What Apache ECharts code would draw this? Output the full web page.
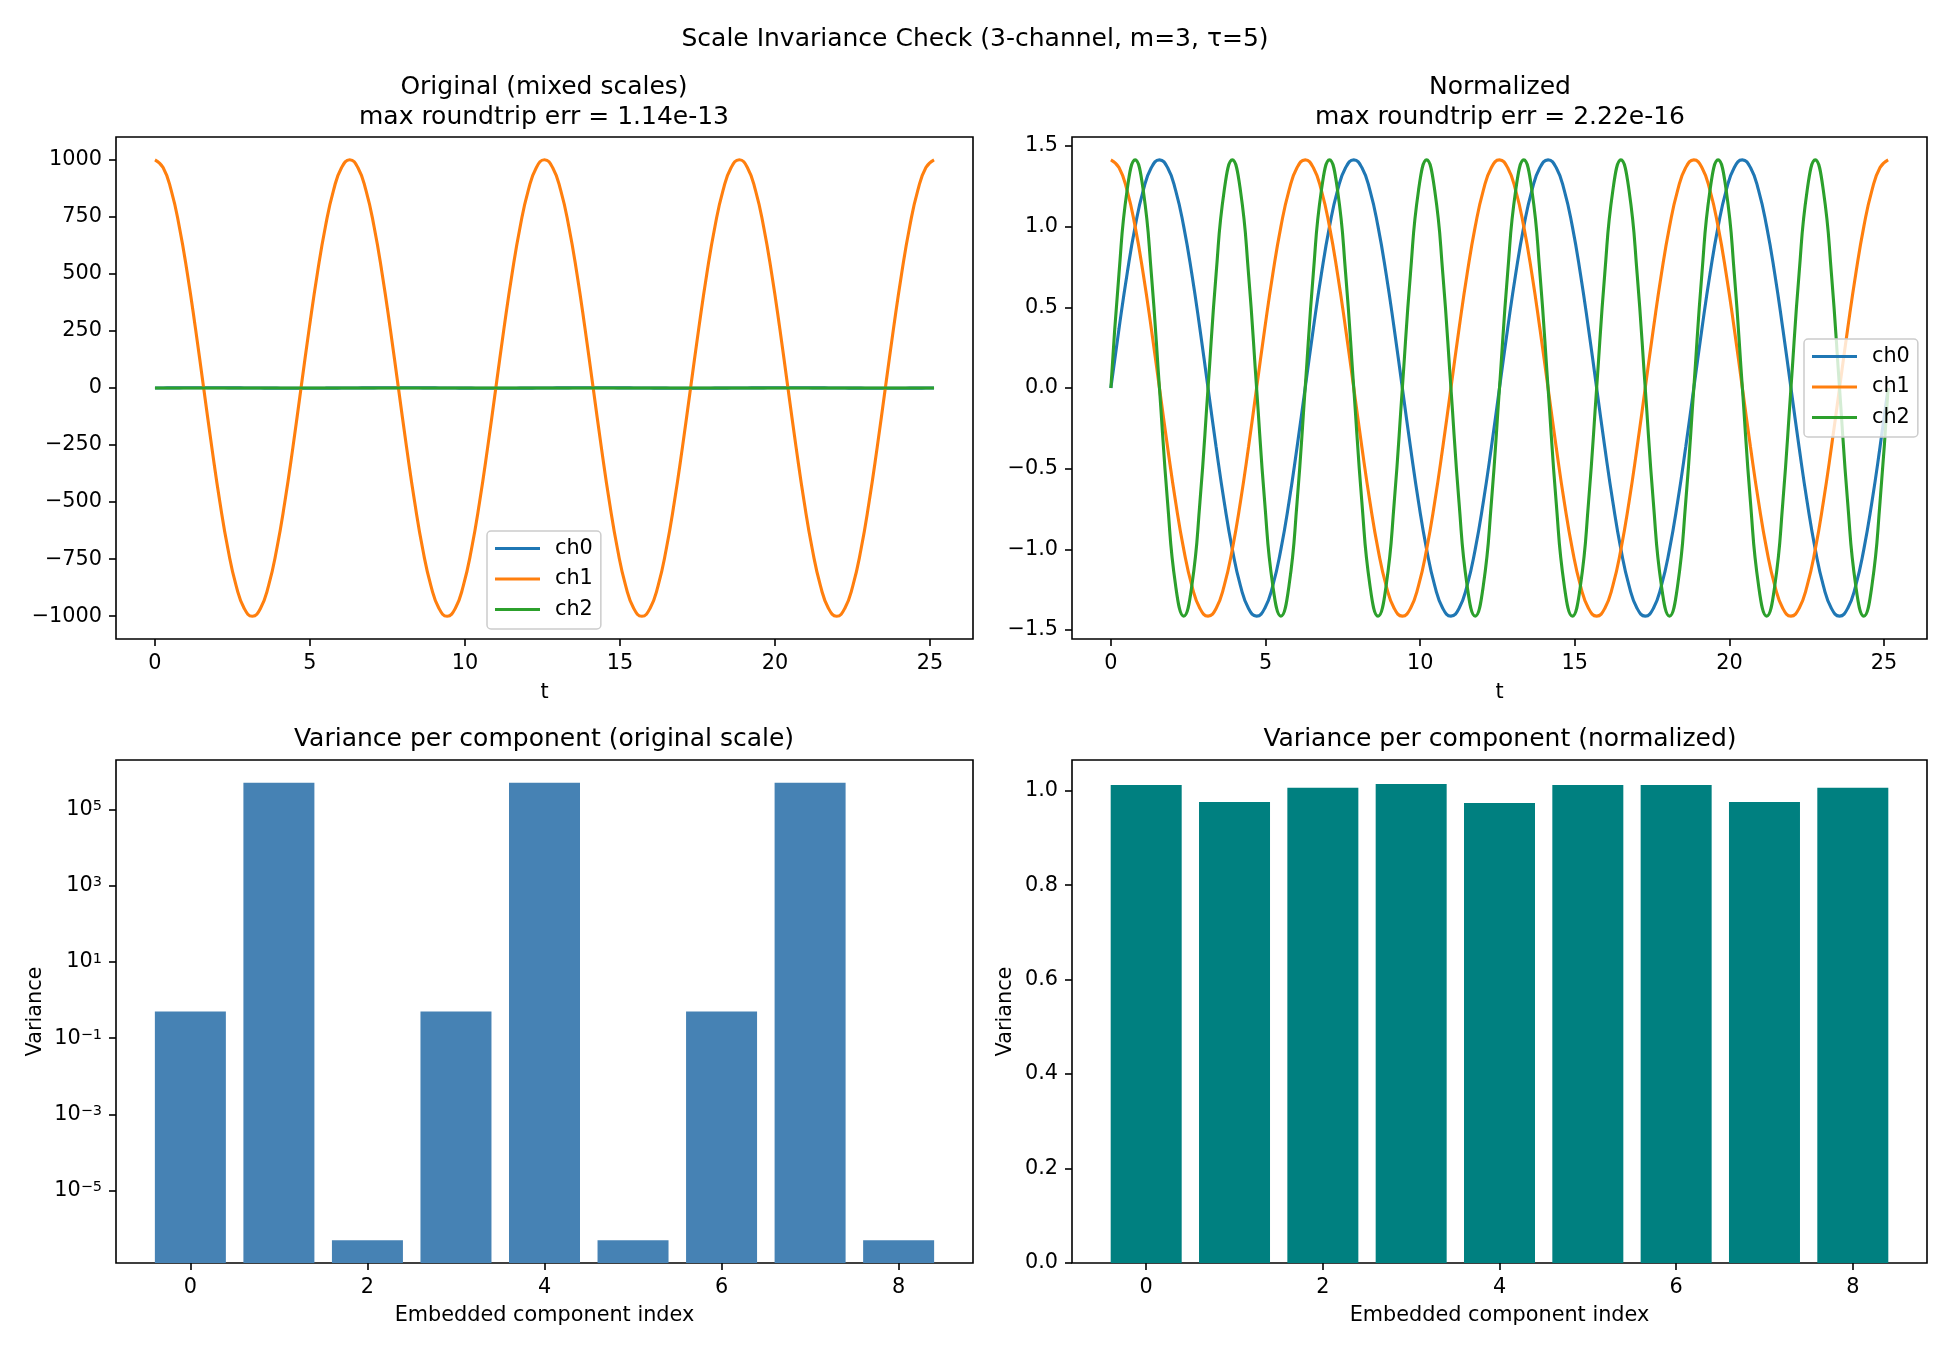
<!DOCTYPE html>
<html>
<head>
<meta charset="utf-8">
<script src="https://cdn.jsdelivr.net/npm/echarts@6/dist/echarts.min.js"></script>
<style>
  html, body { margin: 0; padding: 0; background: #fff; }
  #chart { width: 1950px; height: 1350px; }
</style>
</head>
<body>
<div id="chart"></div>
<script>
// sample times (t), read every ~0.26 along the x axis
const tValues = [0, 0.262, 0.524, 0.785, 1.047, 1.309, 1.571, 1.833, 2.094, 2.356, 2.618, 2.880,
  3.142, 3.403, 3.665, 3.927, 4.189, 4.451, 4.712, 4.974, 5.236, 5.498, 5.760, 6.021,
  6.283, 6.545, 6.807, 7.069, 7.330, 7.592, 7.854, 8.116, 8.378, 8.639, 8.901, 9.163,
  9.425, 9.687, 9.948, 10.210, 10.472, 10.734, 10.996, 11.257, 11.519, 11.781, 12.043, 12.305,
  12.566, 12.828, 13.090, 13.352, 13.614, 13.875, 14.137, 14.399, 14.661, 14.923, 15.184, 15.446,
  15.708, 15.970, 16.232, 16.493, 16.755, 17.017, 17.279, 17.541, 17.802, 18.064, 18.326, 18.588,
  18.850, 19.111, 19.373, 19.635, 19.897, 20.159, 20.420, 20.682, 20.944, 21.206, 21.468, 21.729,
  21.991, 22.253, 22.515, 22.777, 23.038, 23.300, 23.562, 23.824, 24.086, 24.347, 24.609, 24.871,
  25.133]

// original (mixed scales)
const origCh0 = [0, 0.26, 0.5, 0.71, 0.87, 0.97, 1, 0.97, 0.87, 0.71, 0.5, 0.26, 0, -0.26, -0.5, -0.71, -0.87, -0.97, -1, -0.97, -0.87, -0.71, -0.5, -0.26,
  0, 0.26, 0.5, 0.71, 0.87, 0.97, 1, 0.97, 0.87, 0.71, 0.5, 0.26, 0, -0.26, -0.5, -0.71, -0.87, -0.97, -1, -0.97, -0.87, -0.71, -0.5, -0.26,
  0, 0.26, 0.5, 0.71, 0.87, 0.97, 1, 0.97, 0.87, 0.71, 0.5, 0.26, 0, -0.26, -0.5, -0.71, -0.87, -0.97, -1, -0.97, -0.87, -0.71, -0.5, -0.26,
  0, 0.26, 0.5, 0.71, 0.87, 0.97, 1, 0.97, 0.87, 0.71, 0.5, 0.26, 0, -0.26, -0.5, -0.71, -0.87, -0.97, -1, -0.97, -0.87, -0.71, -0.5, -0.26,
  0]
const origCh1 = [1000, 966, 866, 707, 500, 259, 0, -259, -500, -707, -866, -966, -1000, -966, -866, -707, -500, -259, 0, 259, 500, 707, 866, 966,
  1000, 966, 866, 707, 500, 259, 0, -259, -500, -707, -866, -966, -1000, -966, -866, -707, -500, -259, 0, 259, 500, 707, 866, 966,
  1000, 966, 866, 707, 500, 259, 0, -259, -500, -707, -866, -966, -1000, -966, -866, -707, -500, -259, 0, 259, 500, 707, 866, 966,
  1000, 966, 866, 707, 500, 259, 0, -259, -500, -707, -866, -966, -1000, -966, -866, -707, -500, -259, 0, 259, 500, 707, 866, 966,
  1000]
const origCh2 = [0, 0.0005, 0.0009, 0.001, 0.0009, 0.0005, 0, -0.0005, -0.0009, -0.001, -0.0009, -0.0005,
  0, 0.0005, 0.0009, 0.001, 0.0009, 0.0005, 0, -0.0005, -0.0009, -0.001, -0.0009, -0.0005,
  0, 0.0005, 0.0009, 0.001, 0.0009, 0.0005, 0, -0.0005, -0.0009, -0.001, -0.0009, -0.0005,
  0, 0.0005, 0.0009, 0.001, 0.0009, 0.0005, 0, -0.0005, -0.0009, -0.001, -0.0009, -0.0005,
  0, 0.0005, 0.0009, 0.001, 0.0009, 0.0005, 0, -0.0005, -0.0009, -0.001, -0.0009, -0.0005,
  0, 0.0005, 0.0009, 0.001, 0.0009, 0.0005, 0, -0.0005, -0.0009, -0.001, -0.0009, -0.0005,
  0, 0.0005, 0.0009, 0.001, 0.0009, 0.0005, 0, -0.0005, -0.0009, -0.001, -0.0009, -0.0005,
  0, 0.0005, 0.0009, 0.001, 0.0009, 0.0005, 0, -0.0005, -0.0009, -0.001, -0.0009, -0.0005,
  0]

// normalized
const normCh0 = [0, 0.366, 0.707, 1.0, 1.225, 1.366, 1.414, 1.366, 1.225, 1.0, 0.707, 0.366, 0, -0.366, -0.707, -1.0, -1.225, -1.366, -1.414, -1.366, -1.225, -1.0, -0.707, -0.366,
  0, 0.366, 0.707, 1.0, 1.225, 1.366, 1.414, 1.366, 1.225, 1.0, 0.707, 0.366, 0, -0.366, -0.707, -1.0, -1.225, -1.366, -1.414, -1.366, -1.225, -1.0, -0.707, -0.366,
  0, 0.366, 0.707, 1.0, 1.225, 1.366, 1.414, 1.366, 1.225, 1.0, 0.707, 0.366, 0, -0.366, -0.707, -1.0, -1.225, -1.366, -1.414, -1.366, -1.225, -1.0, -0.707, -0.366,
  0, 0.366, 0.707, 1.0, 1.225, 1.366, 1.414, 1.366, 1.225, 1.0, 0.707, 0.366, 0, -0.366, -0.707, -1.0, -1.225, -1.366, -1.414, -1.366, -1.225, -1.0, -0.707, -0.366,
  0]
const normCh1 = [1.414, 1.366, 1.225, 1.0, 0.707, 0.366, 0, -0.366, -0.707, -1.0, -1.225, -1.366, -1.414, -1.366, -1.225, -1.0, -0.707, -0.366, 0, 0.366, 0.707, 1.0, 1.225, 1.366,
  1.414, 1.366, 1.225, 1.0, 0.707, 0.366, 0, -0.366, -0.707, -1.0, -1.225, -1.366, -1.414, -1.366, -1.225, -1.0, -0.707, -0.366, 0, 0.366, 0.707, 1.0, 1.225, 1.366,
  1.414, 1.366, 1.225, 1.0, 0.707, 0.366, 0, -0.366, -0.707, -1.0, -1.225, -1.366, -1.414, -1.366, -1.225, -1.0, -0.707, -0.366, 0, 0.366, 0.707, 1.0, 1.225, 1.366,
  1.414, 1.366, 1.225, 1.0, 0.707, 0.366, 0, -0.366, -0.707, -1.0, -1.225, -1.366, -1.414, -1.366, -1.225, -1.0, -0.707, -0.366, 0, 0.366, 0.707, 1.0, 1.225, 1.366,
  1.414]
const normCh2 = [0, 0.707, 1.225, 1.414, 1.225, 0.707, 0, -0.707, -1.225, -1.414, -1.225, -0.707,
  0, 0.707, 1.225, 1.414, 1.225, 0.707, 0, -0.707, -1.225, -1.414, -1.225, -0.707,
  0, 0.707, 1.225, 1.414, 1.225, 0.707, 0, -0.707, -1.225, -1.414, -1.225, -0.707,
  0, 0.707, 1.225, 1.414, 1.225, 0.707, 0, -0.707, -1.225, -1.414, -1.225, -0.707,
  0, 0.707, 1.225, 1.414, 1.225, 0.707, 0, -0.707, -1.225, -1.414, -1.225, -0.707,
  0, 0.707, 1.225, 1.414, 1.225, 0.707, 0, -0.707, -1.225, -1.414, -1.225, -0.707,
  0, 0.707, 1.225, 1.414, 1.225, 0.707, 0, -0.707, -1.225, -1.414, -1.225, -0.707,
  0, 0.707, 1.225, 1.414, 1.225, 0.707, 0, -0.707, -1.225, -1.414, -1.225, -0.707,
  0]

// variance per embedded component
const componentIndex = [0, 1, 2, 3, 4, 5, 6, 7, 8]
const varOriginal = [0.5, 5e5, 5e-7, 0.5, 5e5, 5e-7, 0.5, 5e5, 5e-7]
const varNormalized = [1.012, 0.976, 1.006, 1.014, 0.974, 1.012, 1.012, 0.976, 1.006]

// tick labels
const tTicks = [0, 5, 10, 15, 20, 25]
const origTicks = [-1000, -750, -500, -250, 0, 250, 500, 750, 1000]
const normTicks = [-1.5, -1.0, -0.5, 0.0, 0.5, 1.0, 1.5]
const compTicks = [0, 2, 4, 6, 8]
const logTicks = [1e-5, 1e-3, 1e-1, 1e1, 1e3, 1e5]
const varTicks = [0, 0.2, 0.4, 0.6, 0.8, 1.0]

const FONT = 'DejaVu Sans'
const LABEL_SIZE = 20.8
const colors = ['#1f77b4', '#ff7f0e', '#2ca02c']

const pairs = (xs, ys) => xs.map((x, i) => [x, ys[i]])
const minus = s => String(s).replace('-', '\u2212')

function axisBase(ticks, fmt) {
  return {
    axisLine: { show: false, onZero: false },
    splitLine: { show: false },
    axisTick: { show: true, length: 7, lineStyle: { color: '#000', width: 1.6 }, customValues: ticks },
    axisLabel: {
      color: '#000', fontFamily: FONT, fontSize: LABEL_SIZE, margin: 14,
      customValues: ticks, formatter: fmt
    },
    nameTextStyle: { color: '#000', fontFamily: FONT, fontSize: LABEL_SIZE }
  }
}

const grids = [
  { left: 116, top: 137, width: 857, height: 502 },
  { left: 1072, top: 137, width: 855, height: 502 },
  { left: 116, top: 760, width: 857, height: 503 },
  { left: 1072, top: 760, width: 855, height: 503 }
].map(g => Object.assign(g, { show: true, borderColor: '#000', borderWidth: 1.6, backgroundColor: 'transparent', containLabel: false }))

const tAxis = (gi) => Object.assign(axisBase(tTicks, v => String(v)), {
  type: 'value', gridIndex: gi, min: -1.257, max: 26.39,
  name: 't', nameLocation: 'middle', nameGap: 43
})
const compAxis = (gi) => Object.assign(axisBase(compTicks, v => String(v)), {
  type: 'value', gridIndex: gi, min: -0.84, max: 8.84,
  name: 'Embedded component index', nameLocation: 'middle', nameGap: 42
})

const titleStyle = { color: '#000', fontFamily: FONT, fontSize: 25, fontWeight: 'normal', lineHeight: 30 }

const option = {
  animation: false,
  backgroundColor: '#fff',
  title: [
    { text: 'Scale Invariance Check (3-channel, m=3, \u03c4=5)', left: 975, textAlign: 'center', top: 24, padding: 0, textStyle: titleStyle },
    { text: 'Original (mixed scales)\nmax roundtrip err = 1.14e-13', left: 544, textAlign: 'center', top: 72, padding: 0, textStyle: titleStyle },
    { text: 'Normalized\nmax roundtrip err = 2.22e-16', left: 1500, textAlign: 'center', top: 72, padding: 0, textStyle: titleStyle },
    { text: 'Variance per component (original scale)', left: 544, textAlign: 'center', top: 724, padding: 0, textStyle: titleStyle },
    { text: 'Variance per component (normalized)', left: 1500, textAlign: 'center', top: 724, padding: 0, textStyle: titleStyle }
  ],
  legend: [
    {
      orient: 'vertical', left: 487, top: 531, data: ['ch0', 'ch1', 'ch2'],
      icon: 'rect', itemWidth: 45, itemHeight: 3, itemGap: 9.5,
      padding: [7, 8, 9, 8], borderColor: '#cccccc', borderWidth: 1.5, borderRadius: 4,
      backgroundColor: 'rgba(255,255,255,0.8)',
      textStyle: { color: '#000', fontFamily: FONT, fontSize: LABEL_SIZE, lineHeight: 21, padding: [0, 0, 0, 10] },
      selectedMode: false
    },
    {
      orient: 'vertical', left: 1804, top: 339, data: ['ch0', 'ch1', 'ch2'],
      icon: 'rect', itemWidth: 45, itemHeight: 3, itemGap: 9.5,
      padding: [7, 8, 9, 8], borderColor: '#cccccc', borderWidth: 1.5, borderRadius: 4,
      backgroundColor: 'rgba(255,255,255,0.8)',
      textStyle: { color: '#000', fontFamily: FONT, fontSize: LABEL_SIZE, lineHeight: 21, padding: [0, 0, 0, 10] },
      selectedMode: false
    }
  ],
  grid: grids,
  xAxis: [tAxis(0), tAxis(1), compAxis(2), compAxis(3)],
  yAxis: [
    Object.assign(axisBase(origTicks, v => minus(v)), { type: 'value', gridIndex: 0, min: -1100, max: 1100 }),
    Object.assign(axisBase(normTicks, v => minus(v.toFixed(1))), { type: 'value', gridIndex: 1, min: -1.5556, max: 1.5556 }),
    Object.assign(axisBase(logTicks, v => '{b|10}{s|' + minus(Math.round(Math.log10(v))) + '}'), {
      type: 'log', gridIndex: 2, min: 1.256e-7, max: 1.99e6, startValue: 1.256e-7,
      name: 'Variance', nameLocation: 'middle', nameGap: 70
    }),
    Object.assign(axisBase(varTicks, v => v.toFixed(1)), {
      type: 'value', gridIndex: 3, min: 0, max: 1.065,
      name: 'Variance', nameLocation: 'middle', nameGap: 56
    })
  ],
  series: []
}

// superscript styling for log tick labels
option.yAxis[2].axisLabel.rich = {
  b: { fontFamily: FONT, fontSize: LABEL_SIZE, lineHeight: 21, padding: [5, 0, 0, 0], verticalAlign: 'bottom', color: '#000' },
  s: { fontFamily: FONT, fontSize: 14.5, lineHeight: 14, verticalAlign: 'top', color: '#000' }
}

const origData = [origCh0, origCh1, origCh2]
const normData = [normCh0, normCh1, normCh2]
;['ch0', 'ch1', 'ch2'].forEach((name, i) => {
  option.series.push({
    type: 'line', name: name, xAxisIndex: 0, yAxisIndex: 0, data: pairs(tValues, origData[i]),
    showSymbol: false, smooth: true, color: colors[i], lineStyle: { width: 3.1, color: colors[i] }
  })
  option.series.push({
    type: 'line', name: name, xAxisIndex: 1, yAxisIndex: 1, data: pairs(tValues, normData[i]),
    showSymbol: false, smooth: true, color: colors[i], lineStyle: { width: 3.1, color: colors[i] }
  })
})

option.series.push({
  type: 'bar', name: 'varOriginal', xAxisIndex: 2, yAxisIndex: 2,
  data: pairs(componentIndex, varOriginal), barWidth: 71, itemStyle: { color: '#4682b4' }
})
option.series.push({
  type: 'bar', name: 'varNormalized', xAxisIndex: 3, yAxisIndex: 3,
  data: pairs(componentIndex, varNormalized), barWidth: 71, itemStyle: { color: '#008080' }
})

let chart = echarts.init(document.getElementById('chart'), null, { renderer: 'canvas' })
chart.setOption(option)
</script>
</body>
</html>
